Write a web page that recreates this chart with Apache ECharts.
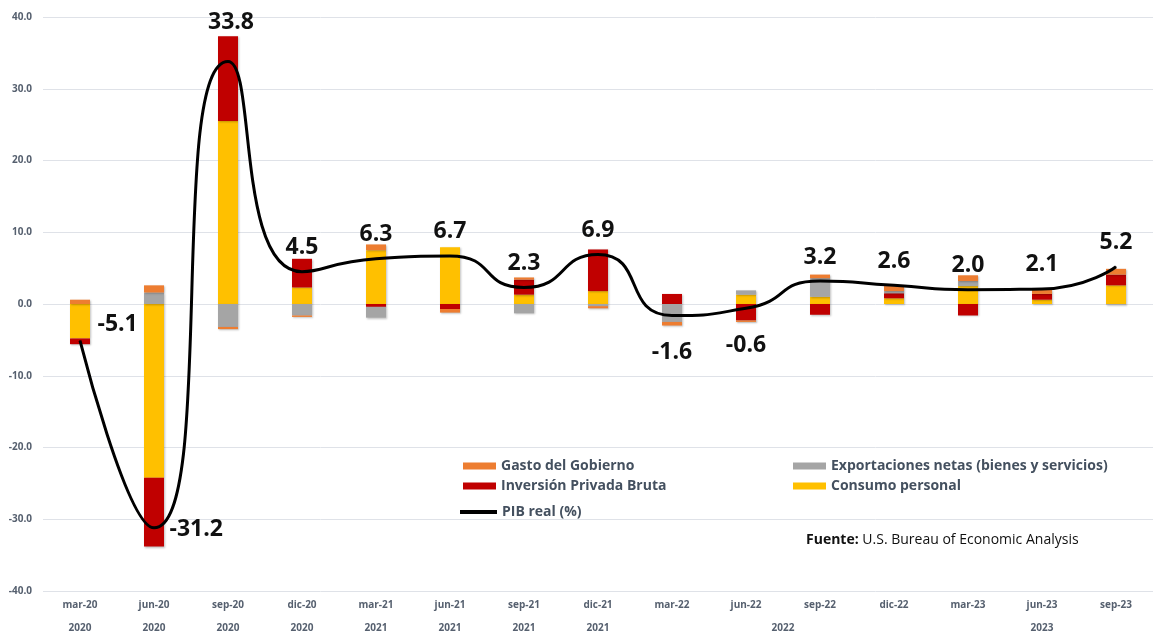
<!DOCTYPE html>
<html>
<head>
<meta charset="utf-8">
<script src="https://cdn.jsdelivr.net/npm/echarts@6/dist/echarts.min.js"></script>
<style>
html,body{margin:0;padding:0;background:#fff;}
#chart{width:1153px;height:634px;}
</style>
</head>
<body>
<div id="chart"></div>
<script>
// ---- Data ----
const categories = ['mar-20','jun-20','sep-20','dic-20','mar-21','jun-21','sep-21','dic-21','mar-22','jun-22','sep-22','dic-22','mar-23','jun-23','sep-23'];
const yearLabels = ['2020','2020','2020','2020','2021','2021','2021','2021','','2022','','','','2023',''];
const consumoPersonal = [-4.8, -24.2, 25.5, 2.3, 7.5, 7.9, 1.3, 1.8, 0.0, 1.3, 1.0, 0.8, 2.5, 0.6, 2.6];
const inversionPrivada = [-0.8, -9.6, 11.8, 4.0, -0.4, -0.7, 2.1, 5.8, 1.4, -2.3, -1.5, 0.7, -1.6, 0.8, 1.5];
const exportacionesNetas = [0.0, 1.6, -3.2, -1.6, -1.5, 0.0, -1.3, -0.3, -2.5, 0.6, 2.6, 0.3, 0.7, 0.0, -0.1];
const gastoGobierno = [0.6, 1.0, -0.3, -0.2, 0.8, -0.5, 0.3, -0.3, -0.5, -0.2, 0.5, 0.7, 0.8, 0.6, 0.8];
const pibReal = [-5.1, -31.2, 33.8, 4.5, 6.3, 6.7, 2.3, 6.9, -1.6, -0.6, 3.2, 2.6, 2.0, 2.1, 5.2];
const yTicks = { min: -40, max: 40, interval: 10 };

// ---- Styling ----
const FONT = '"Open Sans", "DejaVu Sans", sans-serif';
const C_YELLOW = '#ffc000', C_RED = '#c00000', C_GRAY = '#a5a5a5', C_ORANGE = '#ed7d31';
const axisColor = '#56606f';
const legendColor = '#44505f';

// label placement per point index (style only)
function labelFor(i) {
  const base = {
    show: true, fontFamily: FONT, fontWeight: 'bold', fontSize: 23, color: '#111',
    formatter: function (p) { return Number(p.value).toFixed(1); }
  };
  if (i === 0) return Object.assign(base, { position: 'right', distance: 17, offset: [0, -16] });
  if (i === 1) return Object.assign(base, { position: 'right', distance: 15, offset: [0, 2] });
  if (i === 2) return Object.assign(base, { position: 'top', distance: 27, offset: [3, 0] });
  if (i === 8 || i === 9) return Object.assign(base, { position: 'bottom', distance: 25 });
  return Object.assign(base, { position: 'top', distance: 12 });
}

const barShadow = { shadowColor: 'rgba(0,0,0,0.25)', shadowBlur: 2, shadowOffsetX: 1, shadowOffsetY: 1 };
function barSeries(name, data, color) {
  return {
    name: name, type: 'bar', stack: 'total', data: data, barWidth: 20,
    itemStyle: Object.assign({ color: color }, barShadow),
    emphasis: { disabled: true }
  };
}

const legendText = { fontFamily: FONT, fontSize: 14, fontWeight: 'bold', color: legendColor };
function legendAt(name, left, top, w, h, icon) {
  return {
    data: [{ name: name, icon: icon || 'rect' }], left: left, top: top, padding: 0, itemWidth: w, itemHeight: h,
    itemGap: 0, textStyle: legendText, selectedMode: false
  };
}

const option = {
  backgroundColor: '#fff',
  animation: false,
  grid: { left: 43, right: -5, top: 17, bottom: 43, containLabel: false },
  title: {
    text: '{b|Fuente:} U.S. Bureau of Economic Analysis',
    left: 806, top: 533,
    padding: 0,
    textStyle: {
      fontFamily: FONT, fontSize: 14, fontWeight: 'normal', color: '#111',
      rich: { b: { fontFamily: FONT, fontSize: 14, fontWeight: 'bold', color: '#111' } }
    }
  },
  legend: [
    legendAt('Gasto del Gobierno', 463, 459, 33, 7),
    legendAt('Exportaciones netas (bienes y servicios)', 793, 459, 33, 7),
    legendAt('Inversión Privada Bruta', 463, 479, 33, 7),
    legendAt('Consumo personal', 793, 479, 33, 7),
    legendAt('PIB real (%)', 460, 505, 37, 4, 'rect')
  ],
  xAxis: [
    {
      type: 'category', data: categories, position: 'bottom',
      axisLine: { show: false }, axisTick: { show: false },
      axisLabel: { interval: 0, margin: 9, fontFamily: FONT, fontSize: 10, fontWeight: 'bold', color: axisColor }
    },
    {
      type: 'category', data: categories, position: 'bottom', offset: 0,
      axisLine: { show: false }, axisTick: { show: false },
      axisLabel: {
        interval: 0, margin: 32, hideOverlap: false,
        fontFamily: FONT, fontSize: 10, fontWeight: 'bold', color: axisColor,
        formatter: function (v, i) {
          const t = yearLabels[i];
          if (!t) return '';
          return i === 9 ? '{s|' + t + '}' : t;
        },
        rich: { s: { fontFamily: FONT, fontSize: 10, fontWeight: 'bold', color: axisColor, padding: [0, 0, 0, 74] } }
      }
    }
  ],
  yAxis: {
    type: 'value', min: yTicks.min, max: yTicks.max, interval: yTicks.interval,
    axisLine: { show: false }, axisTick: { show: false },
    axisLabel: {
      margin: 11, fontFamily: FONT, fontSize: 10, fontWeight: 'bold', color: axisColor,
      formatter: function (v) { return v.toFixed(1); }
    },
    splitLine: { lineStyle: { color: '#dfe2e8', width: 1 } }
  },
  series: [
    barSeries('Consumo personal', consumoPersonal, C_YELLOW),
    barSeries('Inversión Privada Bruta', inversionPrivada, C_RED),
    barSeries('Exportaciones netas (bienes y servicios)', exportacionesNetas, C_GRAY),
    barSeries('Gasto del Gobierno', gastoGobierno, C_ORANGE),
    {
      name: 'PIB real (%)', type: 'line', smooth: 0.6, smoothConstraint: false,
      showSymbol: true, symbol: 'circle', symbolSize: 1,
      data: pibReal.map(function (v, i) { return { value: v, label: labelFor(i) }; }),
      lineStyle: { color: '#000', width: 3 },
      itemStyle: { color: '#000' },
      z: 5,
      emphasis: { disabled: true }
    }
  ]
};

const chart = echarts.init(document.getElementById('chart'), null, { renderer: 'canvas' });
chart.setOption(option);
</script>
</body>
</html>
